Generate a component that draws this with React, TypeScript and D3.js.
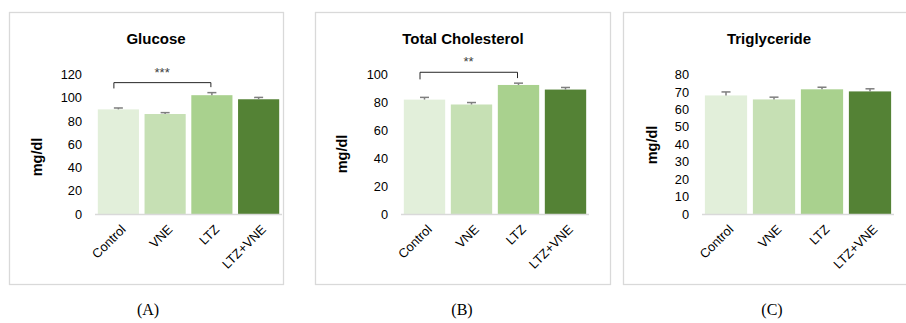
import React from "react";
import * as d3 from "d3";

const categories = ["Control", "VNE", "LTZ", "LTZ+VNE"];
const colors = ["#E2EFDA", "#C6E0B4", "#A9D18E", "#548235"];

const glucoseValues = [90, 86, 102.2, 98.7];
const glucoseErrors = [1.2, 1.2, 2.2, 1.6];
const cholValues = [82, 78.5, 92.5, 89.2];
const cholErrors = [1.6, 1.4, 1.3, 1.5];
const trigValues = [68, 65.7, 71.5, 70.3];
const trigErrors = [2.0, 1.3, 1.2, 1.5];

const glucoseTicks = [0, 20, 40, 60, 80, 100, 120];
const cholTicks = [0, 20, 40, 60, 80, 100];
const trigTicks = [0, 10, 20, 30, 40, 50, 60, 70, 80];

const titles = ["Glucose", "Total Cholesterol", "Triglyceride"];
const panelLabels = ["(A)", "(B)", "(C)"];
const yLabel = "mg/dl";

const glucoseSig = { from: 0, to: 2, top: 113, leg: 108, label: "***" };
const cholSig = { from: 0, to: 2, top: 101.6, leg: 96.5, label: "**" };

const FONT = "'Liberation Sans', Arial, sans-serif";

type PanelProps = {
  frameX0: number;
  frameX1: number;
  plotX0: number;
  plotX1: number;
  titleX: number;
  labelX: number;
  title: string;
  label: string;
  values: number[];
  errors: number[];
  ticks: number[];
  sig?: { from: number; to: number; top: number; leg: number; label: string };
  yLabelX: number;
  yLabelY: number;
};

function Panel(p: PanelProps) {
  const yBottom = 214;
  const yTop = 74.5;
  const y = d3
    .scaleLinear()
    .domain([0, p.ticks[p.ticks.length - 1]])
    .range([yBottom, yTop]);
  const x = d3
    .scaleBand<string>()
    .domain(categories)
    .range([p.plotX0, p.plotX1])
    .paddingInner(0.12)
    .paddingOuter(0.06);
  const bw = x.bandwidth();
  const cx = (c: string) => (x(c) as number) + bw / 2;
  return (
    <g>
      <rect
        x={p.frameX0 + 0.5}
        y={12.5}
        width={p.frameX1 - p.frameX0}
        height={272}
        fill="white"
        stroke="#D9D9D9"
        strokeWidth={1.3}
      />
      <text
        x={p.titleX}
        y={44}
        textAnchor="middle"
        fontFamily={FONT}
        fontWeight="bold"
        fontSize={15}
        fill="#000"
      >
        {p.title}
      </text>
      {p.ticks.map((t) => (
        <text
          key={t}
          x={p.plotX0 - 13}
          y={y(t)}
          dy="0.36em"
          textAnchor="end"
          fontFamily={FONT}
          fontSize={12.8}
          fill="#000"
        >
          {t}
        </text>
      ))}
      <text
        transform={`translate(${p.yLabelX},${p.yLabelY}) rotate(-90)`}
        textAnchor="middle"
        dy="0.35em"
        fontFamily={FONT}
        fontWeight="bold"
        fontSize={14.5}
        fill="#000"
      >
        {yLabel}
      </text>
      {categories.map((c, i) => (
        <rect
          key={c}
          x={x(c)}
          y={y(p.values[i])}
          width={bw}
          height={yBottom - y(p.values[i])}
          fill={colors[i]}
        />
      ))}
      {categories.map((c, i) => (
        <g key={c} stroke="#7F7F7F" strokeWidth={1.5}>
          <line
            x1={cx(c)}
            x2={cx(c)}
            y1={y(p.values[i])}
            y2={y(p.values[i] + p.errors[i])}
          />
          <line
            x1={cx(c) - 4.5}
            x2={cx(c) + 4.5}
            y1={y(p.values[i] + p.errors[i])}
            y2={y(p.values[i] + p.errors[i])}
          />
        </g>
      ))}
      <line
        x1={p.plotX0}
        x2={p.plotX1}
        y1={yBottom + 0.5}
        y2={yBottom + 0.5}
        stroke="#D9D9D9"
        strokeWidth={1.3}
      />
      {categories.map((c) => (
        <text
          key={c}
          transform={`translate(${cx(c) + 5},${yBottom + 13}) rotate(-45)`}
          textAnchor="end"
          dy="0.35em"
          fontFamily={FONT}
          fontSize={12.8}
          fill="#000"
        >
          {c}
        </text>
      ))}
      {p.sig && (
        <g>
          <path
            d={`M${cx(categories[p.sig.from]) - 4.5},${y(p.sig.leg)} V${y(
              p.sig.top
            )} H${cx(categories[p.sig.to]) - 1} V${y(p.sig.leg) - 1.3}`}
            fill="none"
            stroke="#262626"
            strokeWidth={1}
          />
          <text
            x={(cx(categories[p.sig.from]) + cx(categories[p.sig.to])) / 2 - 3}
            y={y(p.sig.top) - 6}
            textAnchor="middle"
            fontFamily={FONT}
            fontSize={13}
            fill="#404040"
          >
            {p.sig.label}
          </text>
        </g>
      )}
      <text
        x={p.labelX}
        y={315}
        textAnchor="middle"
        fontFamily="'Liberation Serif', 'Times New Roman', serif"
        fontSize={16}
        fill="#000"
      >
        {p.label}
      </text>
    </g>
  );
}

export default function App() {
  return (
    <svg
      width={906}
      height={323}
      style={{ position: "absolute", left: 0, top: 0, background: "white" }}
    >
      <rect x={0} y={0} width={906} height={323} fill="white" />
      <Panel
        frameX0={9}
        frameX1={283}
        plotX0={95}
        plotX1={282}
        titleX={156}
        labelX={148}
        title={titles[0]}
        label={panelLabels[0]}
        values={glucoseValues}
        errors={glucoseErrors}
        ticks={glucoseTicks}
        sig={glucoseSig}
        yLabelX={37}
        yLabelY={157}
      />
      <Panel
        frameX0={315}
        frameX1={610}
        plotX0={401}
        plotX1={589}
        titleX={463}
        labelX={462}
        title={titles[1]}
        label={panelLabels[1]}
        values={cholValues}
        errors={cholErrors}
        ticks={cholTicks}
        sig={cholSig}
        yLabelX={342}
        yLabelY={154}
      />
      <Panel
        frameX0={623}
        frameX1={920}
        plotX0={702}
        plotX1={894}
        titleX={769}
        labelX={772}
        title={titles[2]}
        label={panelLabels[2]}
        values={trigValues}
        errors={trigErrors}
        ticks={trigTicks}
        yLabelX={652}
        yLabelY={145}
      />
    </svg>
  );
}
